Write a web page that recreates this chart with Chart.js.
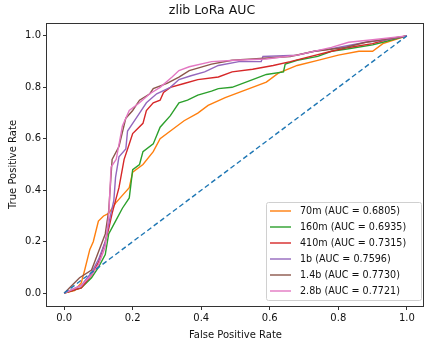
<!DOCTYPE html>
<html>
<head>
<meta charset="utf-8">
<script src="https://cdn.jsdelivr.net/npm/chart.js@4.4.1/dist/chart.umd.min.js"></script>
<style>
  html, body { margin: 0; padding: 0; background: #fff; }
  #wrap { width: 425px; height: 341px; }
</style>
</head>
<body>
<div id="wrap"><canvas id="myChart"></canvas></div>
<script>
var modelNames = ["70m", "160m", "410m", "1b", "1.4b", "2.8b"];
var aucValues = [0.6805, 0.6935, 0.7315, 0.7596, 0.7730, 0.7721];
var lineColors = ["#ff7f0e", "#2ca02c", "#d62728", "#9467bd", "#8c564b", "#e377c2"];
var tickValues = [0, 0.2, 0.4, 0.6, 0.8, 1.0];

var fpr70m = [0, 0.03, 0.05, 0.06, 0.075, 0.085, 0.1, 0.115, 0.13, 0.15, 0.17, 0.19, 0.2, 0.23, 0.26, 0.28, 0.31, 0.35, 0.39, 0.42, 0.47, 0.53, 0.59, 0.625, 0.68, 0.74, 0.8, 0.86, 0.9, 0.93, 1.0];
var tpr70m = [0, 0.01, 0.04, 0.09, 0.17, 0.2, 0.28, 0.3, 0.31, 0.35, 0.38, 0.41, 0.47, 0.5, 0.55, 0.6, 0.63, 0.67, 0.70, 0.73, 0.76, 0.79, 0.82, 0.855, 0.885, 0.905, 0.925, 0.94, 0.94, 0.97, 1.0];

var fpr160m = [0, 0.05, 0.08, 0.1, 0.12, 0.13, 0.15, 0.17, 0.19, 0.2, 0.22, 0.23, 0.26, 0.28, 0.31, 0.335, 0.36, 0.39, 0.43, 0.45, 0.49, 0.55, 0.59, 0.64, 0.645, 0.68, 0.74, 0.78, 0.83, 0.9, 0.93, 1.0];
var tpr160m = [0, 0.02, 0.06, 0.1, 0.15, 0.23, 0.28, 0.33, 0.37, 0.48, 0.5, 0.55, 0.58, 0.645, 0.69, 0.74, 0.75, 0.77, 0.785, 0.795, 0.8, 0.83, 0.85, 0.86, 0.89, 0.905, 0.92, 0.94, 0.95, 0.965, 0.975, 1.0];

var fpr410m = [0, 0.05, 0.08, 0.1, 0.12, 0.13, 0.14, 0.16, 0.175, 0.19, 0.2, 0.23, 0.24, 0.26, 0.28, 0.29, 0.31, 0.35, 0.39, 0.45, 0.49, 0.55, 0.61, 0.66, 0.72, 0.78, 0.83, 0.9, 0.94, 1.0];
var tpr410m = [0, 0.02, 0.07, 0.12, 0.2, 0.25, 0.31, 0.41, 0.52, 0.58, 0.62, 0.66, 0.71, 0.74, 0.75, 0.78, 0.80, 0.815, 0.83, 0.84, 0.86, 0.87, 0.885, 0.9, 0.92, 0.94, 0.955, 0.97, 0.985, 1.0];

var fpr1b = [0, 0.05, 0.08, 0.1, 0.12, 0.135, 0.145, 0.15, 0.16, 0.18, 0.185, 0.2, 0.22, 0.24, 0.27, 0.31, 0.335, 0.37, 0.41, 0.45, 0.51, 0.575, 0.58, 0.68, 0.73, 0.78, 0.88, 0.94, 1.0];
var tpr1b = [0, 0.03, 0.08, 0.13, 0.2, 0.3, 0.36, 0.45, 0.53, 0.56, 0.63, 0.66, 0.70, 0.74, 0.775, 0.80, 0.83, 0.845, 0.86, 0.885, 0.9, 0.9, 0.92, 0.925, 0.94, 0.95, 0.975, 0.985, 1.0];

var fpr1_4b = [0, 0.045, 0.08, 0.1, 0.12, 0.13, 0.14, 0.16, 0.18, 0.2, 0.22, 0.25, 0.26, 0.3, 0.335, 0.365, 0.43, 0.49, 0.55, 0.66, 0.73, 0.82, 0.88, 1.0];
var tpr1_4b = [0, 0.06, 0.09, 0.16, 0.23, 0.32, 0.52, 0.57, 0.68, 0.71, 0.75, 0.775, 0.795, 0.815, 0.84, 0.865, 0.89, 0.905, 0.91, 0.92, 0.94, 0.955, 0.975, 1.0];

var fpr2_8b = [0, 0.05, 0.08, 0.1, 0.12, 0.13, 0.137, 0.152, 0.17, 0.19, 0.22, 0.25, 0.28, 0.315, 0.335, 0.365, 0.43, 0.5, 0.59, 0.68, 0.78, 0.83, 0.9, 1.0];
var tpr2_8b = [0, 0.03, 0.07, 0.11, 0.18, 0.3, 0.49, 0.52, 0.65, 0.71, 0.74, 0.775, 0.8, 0.84, 0.865, 0.88, 0.9, 0.905, 0.91, 0.925, 0.955, 0.975, 0.985, 1.0];

var chanceX = [0, 1];
var chanceY = [0, 1];

var fprAll = [fpr70m, fpr160m, fpr410m, fpr1b, fpr1_4b, fpr2_8b];
var tprAll = [tpr70m, tpr160m, tpr410m, tpr1b, tpr1_4b, tpr2_8b];

function toPoints(xs, ys) {
    var pts = [];
    for (var i = 0; i < xs.length; i++) {
        pts.push({ x: xs[i], y: ys[i] });
    }
    return pts;
}

var datasets = [];
for (var i = 0; i < modelNames.length; i++) {
    datasets.push({
        label: modelNames[i] + " (AUC = " + aucValues[i].toFixed(4) + ")",
        data: toPoints(fprAll[i], tprAll[i]),
        borderColor: lineColors[i],
        backgroundColor: lineColors[i],
        borderWidth: 1.4,
        pointRadius: 0,
        tension: 0,
        order: modelNames.length - i
    });
}
datasets.push({
    label: "chance",
    data: toPoints(chanceX, chanceY),
    borderColor: "#1f77b4",
    borderWidth: 1.4,
    borderDash: [5, 3],
    pointRadius: 0,
    order: 0
});

var fontFamily = "'DejaVu Sans', sans-serif";
var textColor = "#111";

// frame round the axes + legend box in lower right, like matplotlib
var framePlugin = {
    id: "framePlugin",
    afterDraw: function (chart) {
        var ctx = chart.ctx;
        var a = chart.chartArea;
        ctx.save();
        ctx.strokeStyle = "#333";
        ctx.lineWidth = 1;
        ctx.strokeRect(Math.round(a.left) - 0.5, Math.round(a.top) + 0.5, Math.round(a.right - a.left), Math.round(a.bottom - a.top));

        var boxL = 266, boxT = 202, boxW = 155, boxH = 98;
        ctx.fillStyle = "rgba(255,255,255,0.8)";
        ctx.strokeStyle = "#d0d0d0";
        ctx.beginPath();
        ctx.roundRect(boxL + 0.5, boxT + 0.5, boxW, boxH, 2);
        ctx.fill();
        ctx.stroke();

        ctx.font = "9.6px " + fontFamily;
        ctx.textBaseline = "middle";
        ctx.textAlign = "left";
        for (var i = 0; i < modelNames.length; i++) {
            var ds = chart.data.datasets[i];
            var yy = 211 + i * 16;
            ctx.strokeStyle = ds.borderColor;
            ctx.lineWidth = 1.4;
            ctx.beginPath();
            ctx.moveTo(270, yy);
            ctx.lineTo(291, yy);
            ctx.stroke();
            ctx.fillStyle = textColor;
            ctx.fillText(ds.label, 300, yy + 0.5);
        }
        ctx.restore();
    }
};

new Chart("myChart", {
    type: "line",
    data: { datasets: datasets },
    plugins: [framePlugin],
    options: {
        responsive: true,
        maintainAspectRatio: false,
        animation: false,
        layout: { padding: { left: 0, right: 1, top: 0, bottom: 0 } },
        plugins: {
            legend: { display: false },
            tooltip: { enabled: false },
            title: {
                display: true,
                text: "zlib LoRa AUC",
                color: textColor,
                font: { family: fontFamily, size: 12.5, weight: "normal" },
                padding: { top: 3, bottom: 5 }
            }
        },
        scales: {
            x: {
                type: "linear",
                min: -0.05,
                max: 1.05,
                afterBuildTicks: function (scale) {
                    scale.ticks = tickValues.map(function (v) { return { value: v }; });
                },
                afterFit: function (scale) { scale.height = 35; },
                border: { display: false },
                grid: { drawOnChartArea: false, drawTicks: true, tickLength: 4, color: "#333" },
                ticks: {
                    color: textColor,
                    padding: 2,
                    maxRotation: 0,
                    font: { family: fontFamily, size: 10 },
                    callback: function (v) { return v.toFixed(1); }
                },
                title: {
                    display: true,
                    text: "False Positive Rate",
                    color: textColor,
                    font: { family: fontFamily, size: 10 },
                    padding: { top: 0, bottom: 0 }
                }
            },
            y: {
                type: "linear",
                min: -0.05,
                max: 1.05,
                afterBuildTicks: function (scale) {
                    scale.ticks = tickValues.map(function (v) { return { value: v }; });
                },
                afterFit: function (scale) { scale.width = 47; },
                border: { display: false },
                grid: { drawOnChartArea: false, drawTicks: true, tickLength: 4, color: "#333" },
                ticks: {
                    color: textColor,
                    padding: 2,
                    font: { family: fontFamily, size: 10 },
                    callback: function (v) { return v.toFixed(1); }
                },
                title: {
                    display: true,
                    text: "True Positive Rate",
                    color: textColor,
                    font: { family: fontFamily, size: 10 },
                    padding: { top: 7, bottom: 0 }
                }
            }
        }
    }
});
</script>
</body>
</html>
